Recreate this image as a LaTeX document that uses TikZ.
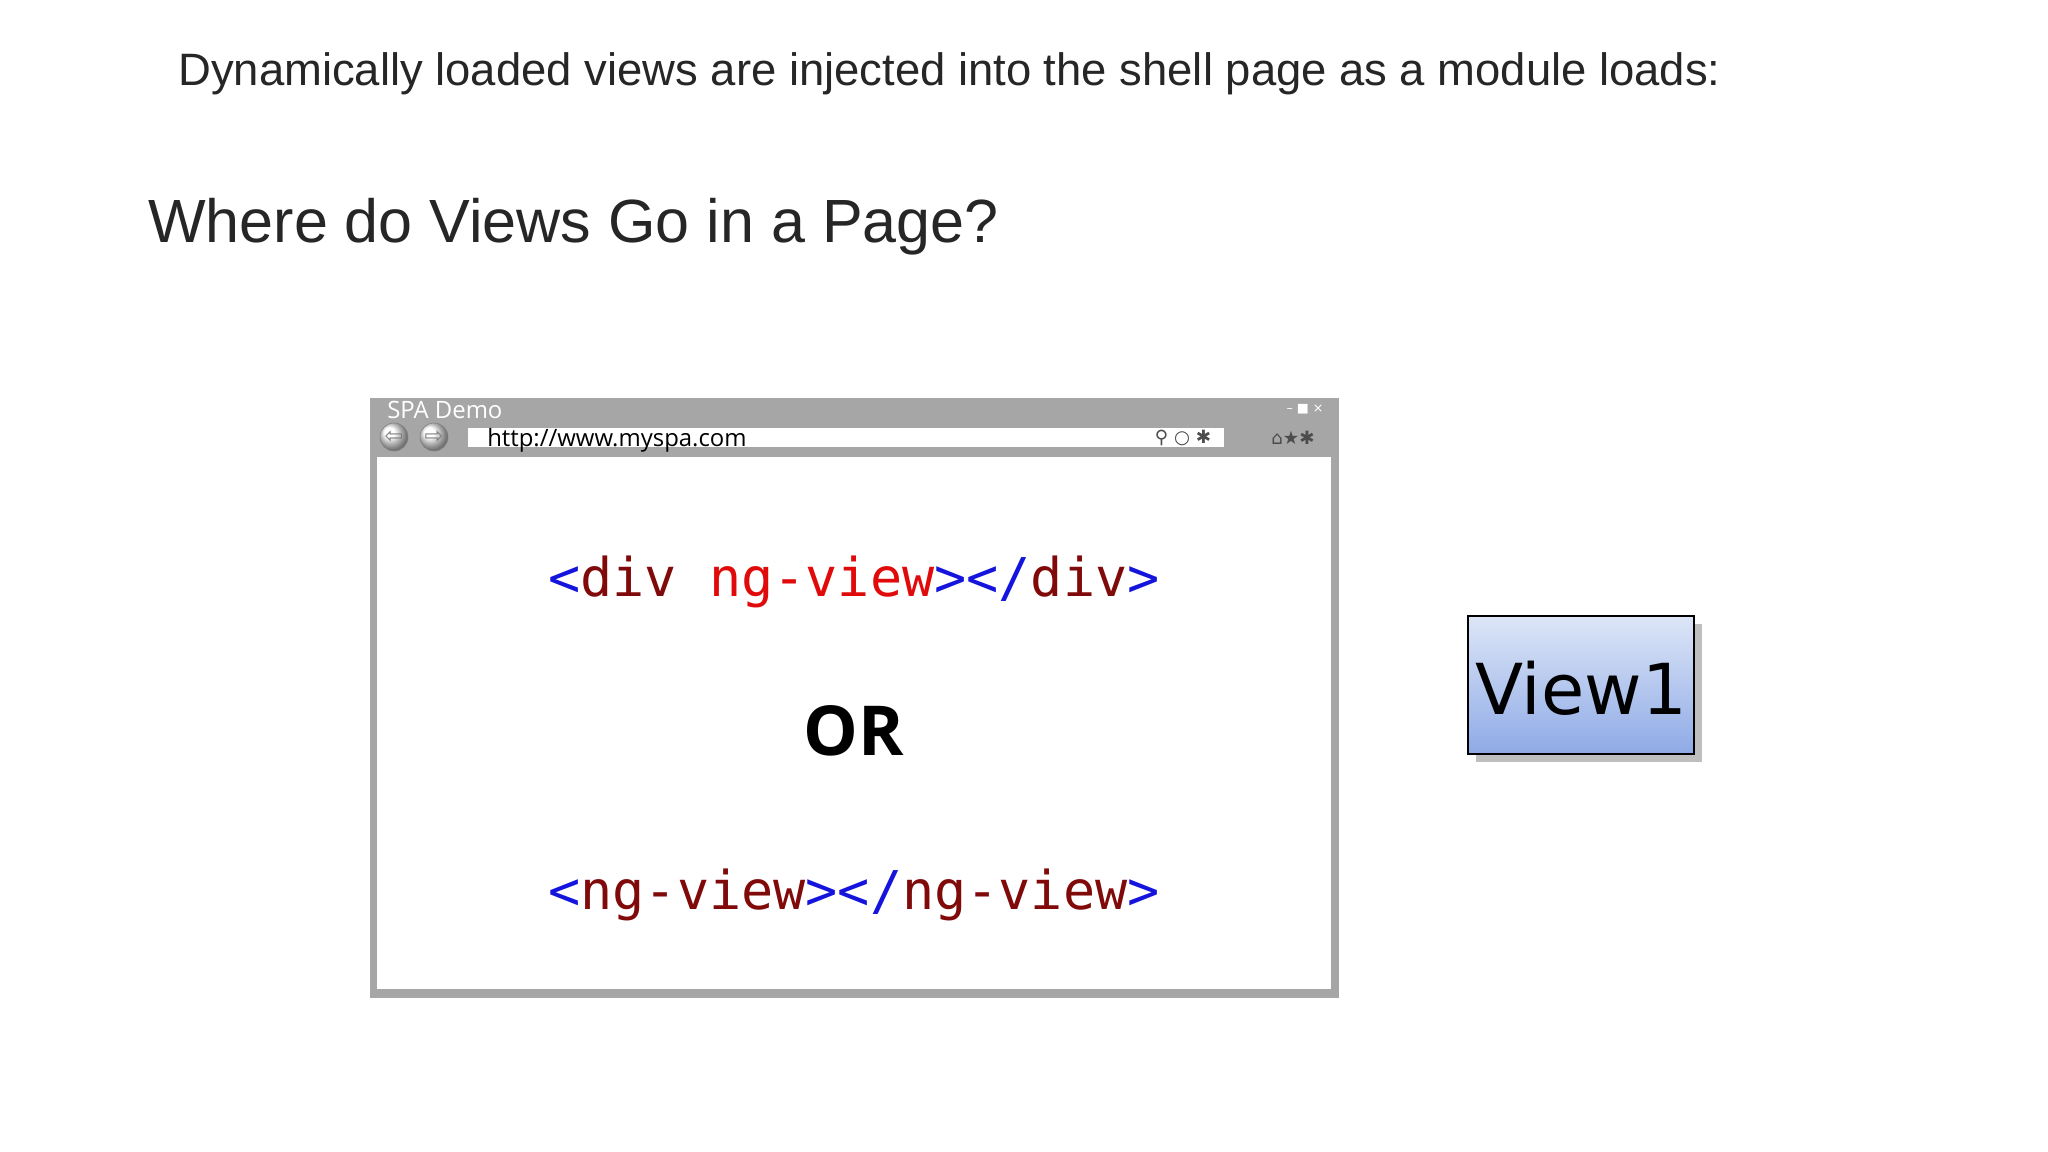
\documentclass[tikz,border=0pt]{standalone}
\usepackage{fontspec}
\setmainfont{Liberation Sans}
\newfontfamily\monof{DejaVu Sans Mono}
\newfontfamily\verd{DejaVu Sans}
\newfontfamily\segoe{Open Sans}
\usetikzlibrary{shadows}
\definecolor{tagblue}{RGB}{20,20,220}
\definecolor{attred}{RGB}{225,10,10}
\definecolor{elred}{RGB}{128,10,10}
\definecolor{frame}{RGB}{166,166,166}
\begin{document}
\begin{tikzpicture}[x=0.025cm,y=-0.025cm,
  txt/.style={inner sep=0pt},
  code/.style={inner sep=0pt,font=\monof\fontsize{38}{40}\selectfont}]
\useasboundingbox (0,0) rectangle (2048,1152);
\fill[white] (0,0) rectangle (2048,1152);
\node[txt,anchor=west,font=\fontsize{32.3}{36}\selectfont,text=black!85] (sub) at (178,74) {Dynamically loaded views are injected into the shell page as a module loads:};
\node[txt,anchor=west,font=\fontsize{43.4}{50}\selectfont,text=black!85] (title) at (148,227) {Where do Views Go in a Page?};
% browser
\fill[frame] (370,398) rectangle (1339,998);
\fill[white] (377,457) rectangle (1331,989);
\fill[white] (468,428) rectangle (1224,447);
\node[txt,anchor=west,font=\segoe\fontsize{17}{18}\selectfont,text=white] (bt) at (387,410) {SPA Demo};
\node[txt,anchor=west,font=\segoe\fontsize{17}{18}\selectfont] (url) at (487,440) {http://www.myspa.com};
\foreach \cx in {394,434}{\shade[ball color=white,draw=gray] (\cx,437) circle (14);}
\node[txt,font=\verd\fontsize{16}{16}\selectfont,text=gray] (lt) at (394,437) {⇦};
\node[txt,font=\verd\fontsize{16}{16}\selectfont,text=gray] (rt) at (434,437) {⇨};
\node[txt,font=\verd\fontsize{13}{14}\selectfont,text=black!70] (ic) at (1183,438) {⚲ ○ ✱};
\node[txt,font=\verd\fontsize{13}{14}\selectfont,text=black!70] (ic2) at (1293,438) {⌂★✱};
\node[txt,font=\verd\fontsize{9}{10}\selectfont,text=white] (win) at (1305,409) {– ■ ×};
\node[code] (c1) at (854,582) {\textcolor{tagblue}{<}\textcolor{elred}{div} \textcolor{attred}{ng-view}\textcolor{tagblue}{></}\textcolor{elred}{div}\textcolor{tagblue}{>}};
\node[txt,font=\segoe\bfseries\fontsize{49}{50}\selectfont] (or) at (854,731) {OR};
\node[code] (c2) at (854,895) {\textcolor{tagblue}{<}\textcolor{elred}{ng-view}\textcolor{tagblue}{></}\textcolor{elred}{ng-view}\textcolor{tagblue}{>}};
% view1
\fill[black!25] (1476,624) rectangle (1702,762);
\shade[top color={rgb,255:red,221;green,230;blue,247},bottom color={rgb,255:red,142;green,170;blue,230},draw=black,line width=1.2pt] (1468,616) rectangle (1694,754);
\node[txt,font=\verd\fontsize{50}{60}\selectfont] (v1) at (1581,688) {View1};
\end{tikzpicture}
\end{document}
